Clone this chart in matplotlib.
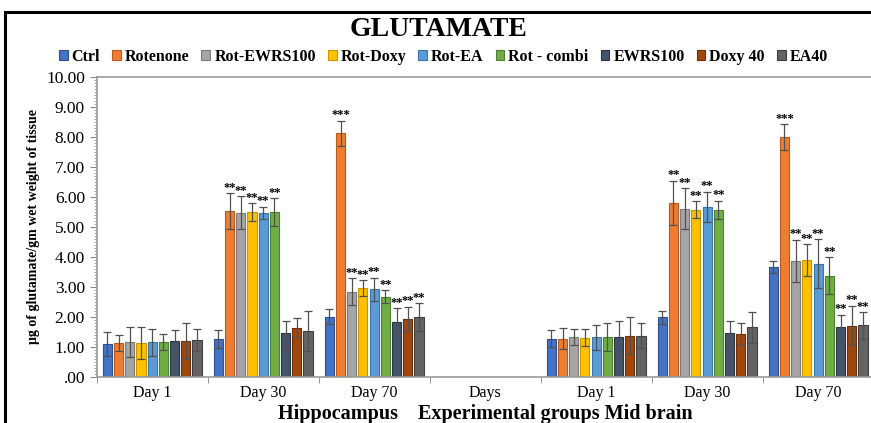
import numpy as np
import matplotlib
matplotlib.use("Agg")
import matplotlib.pyplot as plt
from matplotlib.ticker import MultipleLocator, FuncFormatter
from matplotlib.patches import Rectangle

plt.rcParams["font.family"] = ["Liberation Serif", "DejaVu Serif"]

groups = ["Day 1", "Day 30", "Day 70", "Days", "Day 1", "Day 30", "Day 70"]
series = ["Ctrl", "Rotenone", "Rot-EWRS100", "Rot-Doxy", "Rot-EA", "Rot - combi",
          "EWRS100", "Doxy 40", "EA40"]
colors = ["#4472C4", "#ED7D31", "#A5A5A5", "#FFC000", "#5B9BD5", "#70AD47",
          "#44546A", "#9E480E", "#636363"]
edges = ["#2F4F8F", "#B85A1E", "#7A7A7A", "#C89600", "#3A76AC", "#4E8030",
         "#2A3445", "#6E300A", "#404040"]

nan = np.nan
# mean glutamate (ug/gm wet tissue); index 3 ("Days") is an empty spacer group
means = {
    "Ctrl":        [1.10, 1.27, 2.01, nan, 1.28, 1.99, 3.68],
    "Rotenone":    [1.13, 5.53, 8.12, nan, 1.28, 5.81, 7.99],
    "Rot-EWRS100": [1.17, 5.48, 2.84, nan, 1.32, 5.61, 3.87],
    "Rot-Doxy":    [1.13, 5.50, 2.97, nan, 1.31, 5.57, 3.89],
    "Rot-EA":      [1.15, 5.48, 2.92, nan, 1.32, 5.68, 3.78],
    "Rot - combi": [1.17, 5.50, 2.68, nan, 1.34, 5.57, 3.37],
    "EWRS100":     [1.20, 1.46, 1.84, nan, 1.34, 1.48, 1.68],
    "Doxy 40":     [1.20, 1.64, 1.94, nan, 1.38, 1.42, 1.71],
    "EA40":        [1.23, 1.53, 1.99, nan, 1.38, 1.66, 1.72],
}
errors = {
    "Ctrl":        [0.39, 0.30, 0.25, nan, 0.29, 0.21, 0.20],
    "Rotenone":    [0.28, 0.59, 0.42, nan, 0.35, 0.73, 0.44],
    "Rot-EWRS100": [0.51, 0.55, 0.45, nan, 0.27, 0.68, 0.70],
    "Rot-Doxy":    [0.55, 0.29, 0.26, nan, 0.28, 0.28, 0.54],
    "Rot-EA":      [0.45, 0.20, 0.39, nan, 0.42, 0.50, 0.81],
    "Rot - combi": [0.26, 0.46, 0.22, nan, 0.47, 0.31, 0.62],
    "EWRS100":     [0.37, 0.41, 0.45, nan, 0.54, 0.40, 0.39],
    "Doxy 40":     [0.61, 0.32, 0.40, nan, 0.63, 0.37, 0.66],
    "EA40":        [0.37, 0.68, 0.47, nan, 0.43, 0.52, 0.44],
}
stars = {
    "Ctrl":        ["", "", "", "", "", "", ""],
    "Rotenone":    ["", "**", "***", "", "", "**", "***"],
    "Rot-EWRS100": ["", "**", "**", "", "", "**", "**"],
    "Rot-Doxy":    ["", "**", "**", "", "", "**", "**"],
    "Rot-EA":      ["", "**", "**", "", "", "**", "**"],
    "Rot - combi": ["", "**", "**", "", "", "**", "**"],
    "EWRS100":     ["", "", "**", "", "", "", "**"],
    "Doxy 40":     ["", "", "**", "", "", "", "**"],
    "EA40":        ["", "", "**", "", "", "", "**"],
}

fig = plt.figure(figsize=(8.71, 4.23), dpi=100)
ax = fig.add_axes([0.111, 0.109, 0.892, 0.709])

x = np.arange(len(groups))
slot = 0.101
width = 0.082
for i, name in enumerate(series):
    pos = x + (i - 4) * slot
    vals = np.array(means[name])
    errs = np.array(errors[name])
    ax.bar(pos, vals, width, color=colors[i], edgecolor=edges[i], linewidth=0.8,
           label=name, zorder=2)
    ax.errorbar(pos, vals, yerr=errs, fmt="none", ecolor="#505050",
                elinewidth=0.9, capsize=2.8, capthick=0.9, zorder=3)
    for p, v, e, s in zip(pos, vals, errs, stars[name]):
        if s:
            ax.text(p, v + e - 0.02, s, ha="center", va="bottom",
                    fontsize=9, fontweight="bold", color="black", zorder=4)

ax.set_xlim(-0.5, len(groups) - 0.5)
ax.set_ylim(0, 10)
ax.yaxis.set_major_locator(MultipleLocator(1))
ax.yaxis.set_minor_locator(MultipleLocator(0.1))
ax.yaxis.set_major_formatter(FuncFormatter(lambda v, _: f"{v:.2f}".lstrip("0") if v < 1 else f"{v:.2f}"))
ax.tick_params(axis="y", which="major", labelsize=12.5, length=5, color="#888888")
ax.tick_params(axis="y", which="minor", length=2.5, color="#999999")

ax.set_xticks(x)
ax.set_xticklabels(groups, fontsize=11.5)
ax.set_xticks(np.arange(len(groups) + 1) - 0.5, minor=True)
ax.tick_params(axis="x", which="major", length=0, pad=6)
ax.tick_params(axis="x", which="minor", length=4, color="#888888")

for side in ("left", "bottom", "top"):
    ax.spines[side].set_color("#999999")
    ax.spines[side].set_linewidth(1.2)
ax.spines["right"].set_visible(False)

ax.set_ylabel("\u03bcg of glutamate/gm wet weight of tissue", fontsize=10,
              fontweight="bold", labelpad=4)
ax.set_xlabel("Hippocampus    Experimental groups Mid brain", fontsize=14.5,
              fontweight="bold", va="center")
ax.xaxis.set_label_coords(0.5, -0.125)

fig.text(0.503, 0.93, "GLUTAMATE", ha="center", va="center", fontsize=20,
         fontweight="bold")
fig.legend(loc="center", bbox_to_anchor=(0.509, 0.866), ncol=9, frameon=False,
           prop={"size": 11.5, "weight": "bold"}, handlelength=0.55,
           handleheight=0.55, handletextpad=0.25, columnspacing=0.75)

# black outer frame (cropped on the right and bottom)
fig.patches.append(Rectangle((5 / 871, -0.1), 1.2, 1.1 - 12 / 423,
                             transform=fig.transFigure, fill=False,
                             edgecolor="black", linewidth=2.2))

fig.savefig("out.png", dpi=100)
